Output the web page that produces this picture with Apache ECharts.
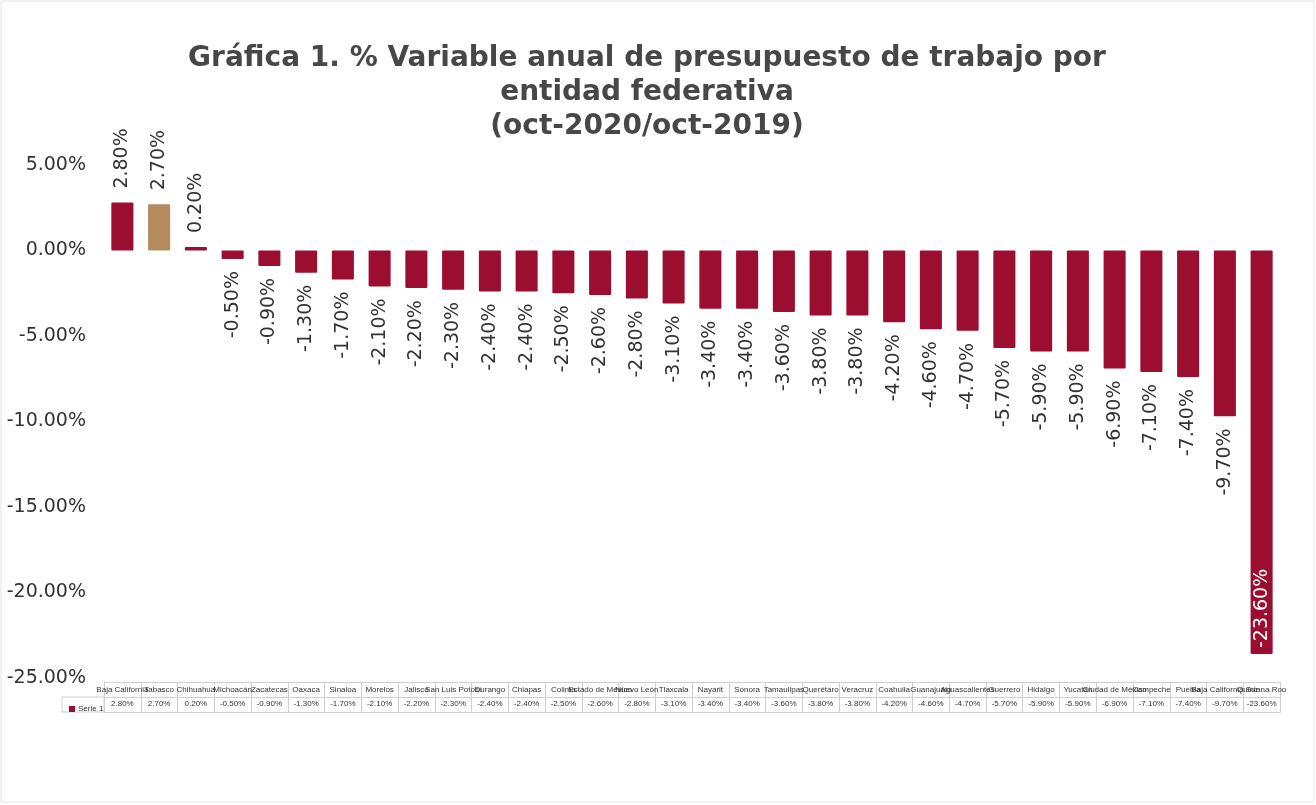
<!DOCTYPE html>
<html>
<head>
<meta charset="utf-8">
<script src="https://cdn.jsdelivr.net/npm/echarts@6/dist/echarts.min.js"></script>
<style>
  html, body { margin: 0; padding: 0; background: #fff; }
  #chart { width: 1316px; height: 805px; }
</style>
</head>
<body>
<div id="chart"></div>
<script>
const categories = [
  'Baja California', 'Tabasco', 'Chihuahua', 'Michoacán', 'Zacatecas', 'Oaxaca',
  'Sinaloa', 'Morelos', 'Jalisco', 'San Luis Potosí', 'Durango', 'Chiapas',
  'Colima', 'Estado de México', 'Nuevo León', 'Tlaxcala', 'Nayarit', 'Sonora',
  'Tamaulipas', 'Querétaro', 'Veracruz', 'Coahuila', 'Guanajuato', 'Aguascalientes',
  'Guerrero', 'Hidalgo', 'Yucatán', 'Ciudad de México', 'Campeche', 'Puebla',
  'Baja California Sur', 'Quintana Roo'
]
const values = [
  2.8, 2.7, 0.2, -0.5, -0.9, -1.3, -1.7, -2.1, -2.2, -2.3, -2.4, -2.4,
  -2.5, -2.6, -2.8, -3.1, -3.4, -3.4, -3.6, -3.8, -3.8, -4.2, -4.6, -4.7,
  -5.7, -5.9, -5.9, -6.9, -7.1, -7.4, -9.7, -23.6
]
const highlighted = 'Tabasco'
const insideLabel = 'Quintana Roo'
const yTicks = { min: -25, max: 5, interval: 5 }

const fmt = v => v.toFixed(2) + '%'

const chart = echarts.init(document.getElementById('chart'))

// per-bar label placement: above positive bars, below negative, inside for the longest
const barData = values.map((v, i) => {
  const item = { value: v }
  if (categories[i] === highlighted) {
    item.itemStyle = { color: '#b38b5c' }
  }
  if (categories[i] === insideLabel) {
    item.label = { position: 'insideBottom', align: 'left', color: '#fff', distance: 6 }
  } else if (v >= 0) {
    item.label = { position: 'top', align: 'left', distance: 14 }
  } else {
    item.label = { position: 'bottom', align: 'right', distance: 12 }
  }
  return item
})

const option = {
  backgroundColor: '#fff',
  textStyle: { fontFamily: 'DejaVu Sans, Arial, sans-serif' },
  title: {
    text: 'Gráfica 1. % Variable anual de presupuesto de trabajo por\nentidad federativa\n(oct-2020/oct-2019)',
    left: 642,
    textAlign: 'center',
    top: 37,
    textStyle: {
      fontSize: 28,
      fontWeight: 'bold',
      color: '#474747',
      lineHeight: 34,
      fontFamily: 'DejaVu Sans, Arial, sans-serif'
    }
  },
  legend: {
    left: 64,
    top: 700,
    itemWidth: 6,
    itemHeight: 6,
    icon: 'rect',
    textStyle: { fontSize: 8, color: '#333', padding: [0, 0, 0, -2], fontFamily: 'Liberation Sans, Arial, sans-serif' },
    data: ['Serie 1']
  },
  grid: [
    { left: 104, right: 36, top: 165, bottom: 127 },
    { left: 104, right: 36, top: 682, height: 30 }
  ],
  xAxis: [
    {
      type: 'category',
      gridIndex: 0,
      data: categories,
      axisLine: { show: false },
      axisTick: { show: false },
      axisLabel: { show: false }
    },
    {
      type: 'category',
      gridIndex: 1,
      position: 'top',
      data: categories,
      axisLine: { show: true, lineStyle: { color: '#cfcfcf' } },
      axisTick: { show: false },
      splitLine: { show: true, lineStyle: { color: '#cfcfcf' } },
      axisLabel: {
        inside: true,
        interval: 0,
        hideOverlap: false,
        margin: 4,
        fontSize: 8,
        color: '#333',
        fontFamily: 'Liberation Sans, Arial, sans-serif'
      }
    },
    {
      type: 'category',
      gridIndex: 1,
      position: 'bottom',
      data: values.map(fmt),
      axisLine: { show: true, lineStyle: { color: '#cfcfcf' } },
      axisTick: { show: false },
      axisLabel: {
        inside: true,
        interval: 0,
        margin: 4,
        fontSize: 8,
        color: '#333',
        fontFamily: 'Liberation Sans, Arial, sans-serif'
      }
    }
  ],
  yAxis: [
    {
      type: 'value',
      gridIndex: 0,
      min: yTicks.min,
      max: yTicks.max,
      interval: yTicks.interval,
      axisLine: { show: false },
      axisTick: { show: false },
      splitLine: { show: false },
      axisLabel: {
        formatter: fmt,
        fontSize: 19,
        color: '#333',
        margin: 18
      }
    },
    {
      type: 'value',
      gridIndex: 1,
      min: 0,
      max: 2,
      interval: 1,
      axisLine: { show: true, lineStyle: { color: '#cfcfcf' } },
      axisTick: { show: false },
      axisLabel: { show: false },
      splitLine: { show: true, lineStyle: { color: '#cfcfcf' } }
    }
  ],
  graphic: [
    {
      type: 'rect',
      shape: { x: 62, y: 697, width: 42, height: 15 },
      style: { fill: 'none', stroke: '#cfcfcf', lineWidth: 1 }
    },
    {
      type: 'rect',
      shape: { x: 1, y: 1, width: 1313, height: 801 },
      style: { fill: 'none', stroke: '#e4e4e4', lineWidth: 1 }
    }
  ],
  series: [
    {
      name: 'Serie 1',
      type: 'bar',
      xAxisIndex: 0,
      yAxisIndex: 0,
      data: barData,
      barCategoryGap: '40%',
      itemStyle: { color: '#9b0e30', borderRadius: 1 },
      label: {
        show: true,
        rotate: 90,
        verticalAlign: 'middle',
        fontSize: 19,
        color: '#333',
        formatter: p => fmt(p.value)
      }
    }
  ]
}

chart.setOption(option)
</script>
</body>
</html>
